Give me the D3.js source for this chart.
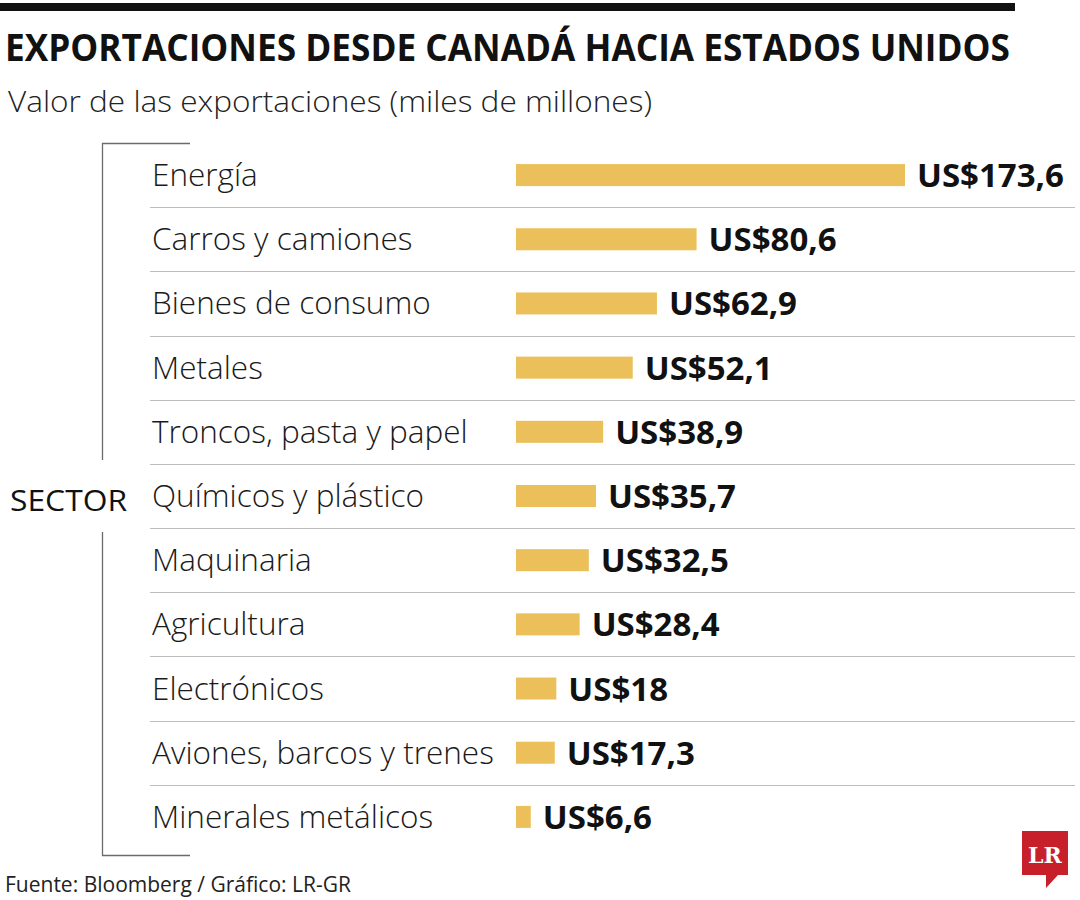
<!DOCTYPE html>
<html><head><meta charset="utf-8">
<script src="https://cdn.jsdelivr.net/npm/d3@7/dist/d3.min.js"></script>
<style>
body{margin:0;background:#fff;}
svg{display:block;}
</style></head>
<body>
<svg id="chart" width="1080" height="900"></svg>
<script>
const categories = ["Energía","Carros y camiones","Bienes de consumo","Metales","Troncos, pasta y papel","Químicos y plástico","Maquinaria","Agricultura","Electrónicos","Aviones, barcos y trenes","Minerales metálicos"];
const values = [173.6, 80.6, 62.9, 52.1, 38.9, 35.7, 32.5, 28.4, 18, 17.3, 6.6];
const valueLabels = ["US$173,6","US$80,6","US$62,9","US$52,1","US$38,9","US$35,7","US$32,5","US$28,4","US$18","US$17,3","US$6,6"];
const title = "EXPORTACIONES DESDE CANADÁ HACIA ESTADOS UNIDOS";
const subtitle = "Valor de las exportaciones (miles de millones)";
const source = "Fuente: Bloomberg / Gráfico: LR-GR";

const svg = d3.select("#chart");
const font = "'Open Sans', 'Noto Sans', sans-serif";

// top rule
svg.append("rect").attr("x",0).attr("y",3).attr("width",1015).attr("height",8).attr("fill","#111");

svg.append("text").attr("x",5).attr("y",61).text(title)
  .attr("font-family",font).attr("font-weight",700).attr("font-size",37).attr("fill","#111")
  .attr("textLength",1005).attr("lengthAdjust","spacingAndGlyphs");

svg.append("text").attr("x",8).attr("y",112).text(subtitle)
  .attr("font-family",font).attr("font-weight",300).attr("font-size",29).attr("fill","#222")
  .attr("textLength",644).attr("lengthAdjust","spacingAndGlyphs");

const y = d3.scaleBand().domain(categories).range([143, 849]).paddingInner(0);
const x = d3.scaleLinear().domain([0, 173.6]).range([516, 905]);

// separators
svg.append("g").selectAll("line").data(categories.slice(1)).join("line")
  .attr("x1",150).attr("x2",1075)
  .attr("y1",d=>Math.round(y(d))+0.5).attr("y2",d=>Math.round(y(d))+0.5)
  .attr("stroke","#bdbdbd").attr("stroke-width",1.2);

// bracket
const bc = "#6b6b6b";
svg.append("path").attr("d","M190,143.5 H102.5 V460 M102.5,532 V855.5 H190")
  .attr("fill","none").attr("stroke",bc).attr("stroke-width",1.3);
svg.append("text").attr("x",10).attr("y",511).text("SECTOR")
  .attr("font-family",font).attr("font-size",30).attr("fill","#111")
  .attr("textLength",117).attr("lengthAdjust","spacingAndGlyphs");

const rows = svg.append("g").selectAll("g").data(categories).join("g")
  .attr("transform",d=>`translate(0,${y(d)+y.bandwidth()/2})`);

rows.append("text").attr("x",152).attr("y",11).text(d=>d)
  .attr("font-family",font).attr("font-weight",300).attr("font-size",31.5).attr("fill","#1a1a1a");

rows.append("rect").attr("x",x(0)).attr("y",-11)
  .attr("width",(d,i)=>x(values[i])-x(0)).attr("height",22).attr("fill","#EBC05A");

rows.append("text").attr("x",(d,i)=>x(values[i])+12).attr("y",12).text((d,i)=>valueLabels[i])
  .attr("font-family",font).attr("font-weight",700).attr("font-size",33).attr("fill","#111");

svg.append("text").attr("x",5).attr("y",892).text(source)
  .attr("font-family",font).attr("font-size",21).attr("fill","#222");

// logo
const logo = svg.append("g");
logo.append("path").attr("d","M1022,831 H1068 V875 H1058 L1046,888 L1046,875 H1022 Z").attr("fill","#C8202A");
logo.append("text").attr("x",1045).attr("y",863).attr("text-anchor","middle").text("LR")
  .attr("font-family","'DejaVu Serif', 'Liberation Serif', serif").attr("font-weight",700).attr("font-size",22).attr("fill","#fff");
</script>
</body></html>
